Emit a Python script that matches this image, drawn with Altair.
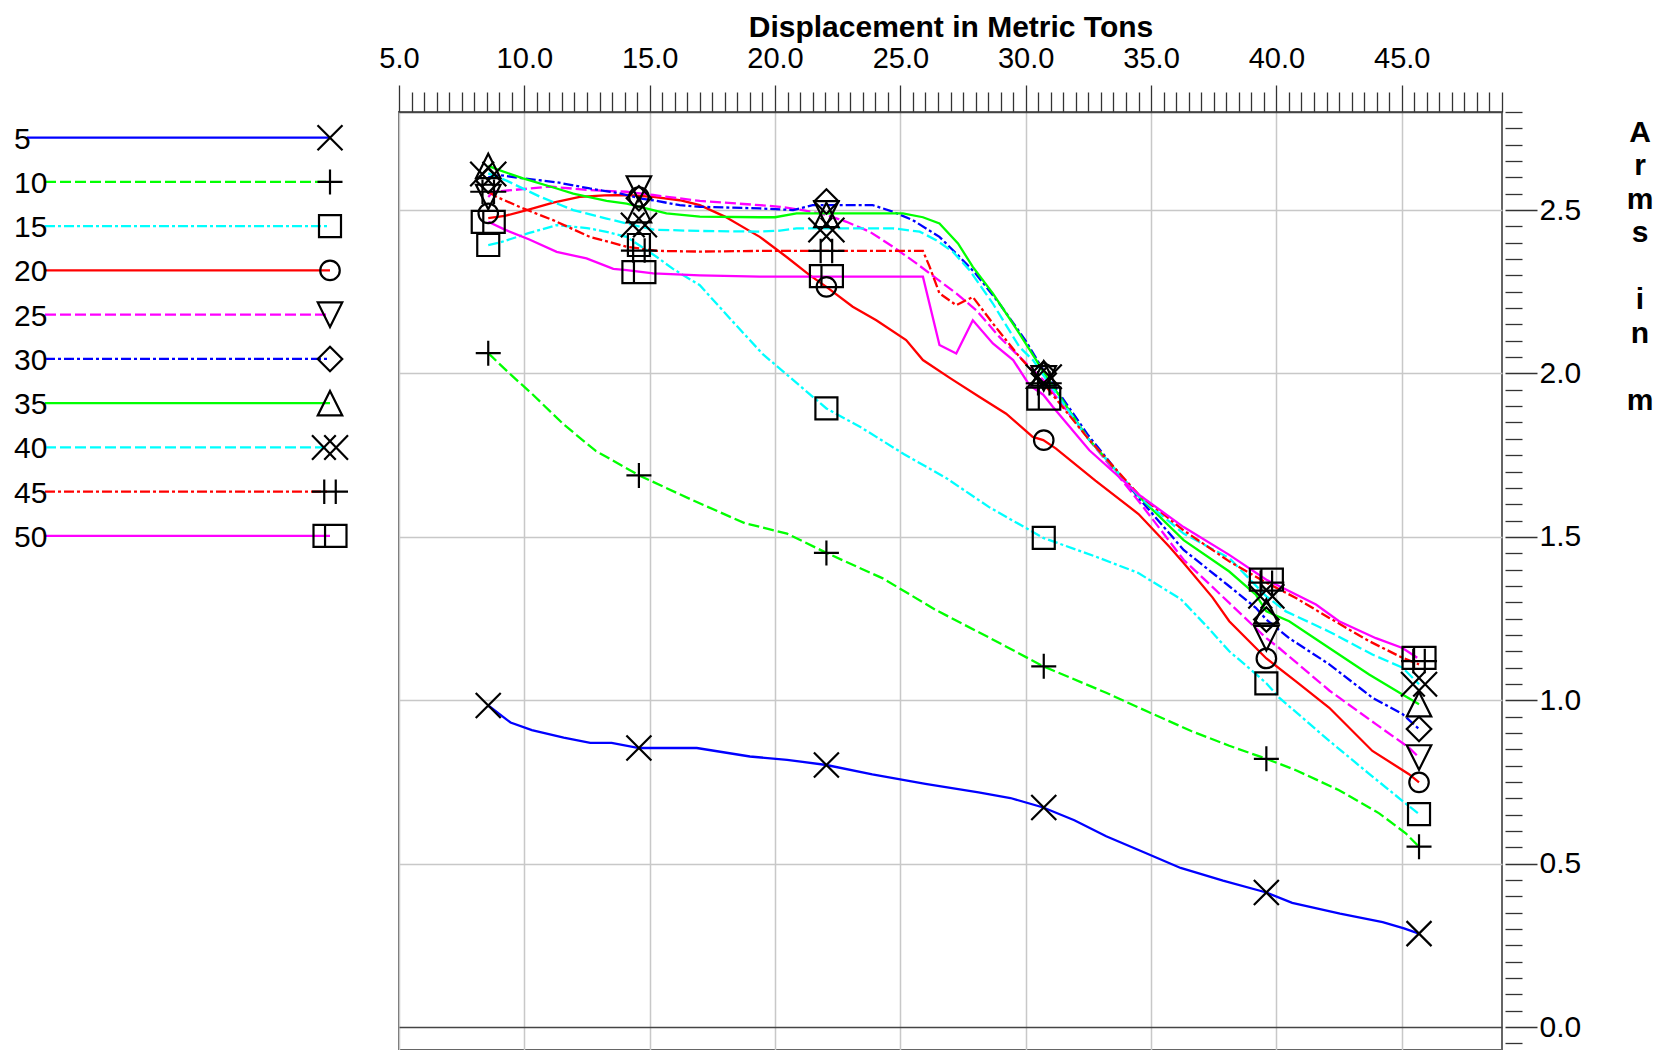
import altair as alt
import pandas as pd

# ---------------- data ----------------
LABELS = ["5", "10", "15", "20", "25", "30", "35", "40", "45", "50"]
COLORS = ["#0000ff", "#00ff00", "#00ffff", "#ff0000", "#ff00ff",
          "#0000ff", "#00ff00", "#00ffff", "#ff0000", "#ff00ff"]
DASHES = [None, [11, 4], [10, 3, 3, 3], None, [11, 4],
          [10, 3, 3, 3], None, [11, 4], [10, 3, 3, 3], None]

X5 = [8.56, 9.45, 10.30, 11.57, 12.63, 13.48, 14.58, 15.82, 16.88, 17.94, 19.00, 20.48, 22.05, 23.88, 26.00,
      28.12, 29.39, 30.70, 31.94, 33.21, 34.69, 36.18, 37.87, 39.60, 40.63, 42.54, 44.24, 45.09, 45.69]
Y5 = [0.984, 0.932, 0.909, 0.886, 0.870, 0.870, 0.854, 0.854, 0.854, 0.841, 0.828, 0.818, 0.802, 0.773, 0.744,
      0.718, 0.701, 0.672, 0.633, 0.584, 0.536, 0.487, 0.448, 0.412, 0.380, 0.347, 0.321, 0.302, 0.286]

X10 = [8.56, 9.45, 10.30, 11.57, 12.85, 14.58, 16.66, 18.79, 20.48, 22.05, 24.30, 26.42, 28.54, 30.70, 33.21,
       34.90, 36.60, 38.12, 39.60, 40.78, 42.50, 44.10, 45.16, 45.69]
Y10 = [2.062, 1.997, 1.938, 1.844, 1.763, 1.688, 1.614, 1.542, 1.510, 1.451, 1.373, 1.276, 1.192, 1.104, 1.023,
       0.964, 0.906, 0.861, 0.821, 0.786, 0.725, 0.654, 0.593, 0.552]

X15 = [8.56, 9.00, 10.20, 11.29, 12.50, 13.28, 14.08, 14.57, 15.27, 15.93, 17.00, 18.30, 19.50, 20.80, 22.05,
       23.45, 25.15, 26.85, 28.54, 30.70, 32.78, 34.48, 36.18, 37.30, 38.12, 39.19, 39.60, 40.11, 42.11, 43.70,
       45.16, 45.69]
Y15 = [2.393, 2.400, 2.430, 2.454, 2.445, 2.433, 2.418, 2.393, 2.357, 2.320, 2.270, 2.160, 2.060, 1.975, 1.893,
       1.834, 1.753, 1.679, 1.591, 1.497, 1.440, 1.390, 1.310, 1.220, 1.150, 1.080, 1.052, 1.008, 0.876, 0.775,
       0.684, 0.652]

X20 = [8.56, 9.22, 10.10, 11.15, 12.21, 13.20, 14.08, 15.14, 16.20, 17.00, 18.00, 19.39, 20.45, 21.38, 22.05,
       23.10, 24.04, 25.23, 25.90, 27.00, 28.16, 29.22, 30.28, 30.70, 31.21, 32.78, 34.50, 35.75, 36.30, 37.45,
       38.12, 39.60, 40.78, 42.11, 43.83, 45.29, 45.69]
Y20 = [2.475, 2.482, 2.500, 2.523, 2.540, 2.545, 2.546, 2.540, 2.530, 2.515, 2.480, 2.418, 2.357, 2.301, 2.265,
       2.204, 2.163, 2.102, 2.041, 1.985, 1.928, 1.877, 1.806, 1.796, 1.770, 1.672, 1.570, 1.468, 1.420, 1.315,
       1.242, 1.128, 1.058, 0.977, 0.845, 0.774, 0.749]

X25 = [8.56, 8.76, 9.95, 11.00, 12.61, 14.08, 15.14, 17.00, 19.39, 20.20, 21.10, 22.05, 22.85, 23.77, 24.70,
       25.64, 26.43, 27.23, 28.02, 28.95, 29.75, 30.70, 32.50, 34.50, 36.30, 38.12, 39.60, 40.11, 42.11, 43.97,
       45.29, 45.69]
Y25 = [2.540, 2.556, 2.564, 2.572, 2.561, 2.556, 2.546, 2.528, 2.515, 2.510, 2.500, 2.485, 2.464, 2.434, 2.388,
       2.337, 2.291, 2.245, 2.194, 2.112, 2.051, 1.980, 1.800, 1.610, 1.430, 1.298, 1.190, 1.160, 1.030, 0.927,
       0.855, 0.825]

X30 = [8.56, 9.00, 9.95, 11.29, 12.61, 13.80, 14.60, 15.27, 16.20, 17.00, 19.39, 20.72, 21.50, 22.05, 23.90,
       24.70, 25.50, 26.56, 27.36, 28.00, 28.95, 30.00, 30.70, 32.50, 34.50, 36.30, 38.12, 39.18, 39.60, 40.51,
       42.11, 43.83, 45.03, 45.69]
Y30 = [2.600, 2.607, 2.597, 2.585, 2.566, 2.551, 2.536, 2.528, 2.515, 2.510, 2.505, 2.500, 2.515, 2.515, 2.515,
       2.495, 2.469, 2.418, 2.357, 2.306, 2.214, 2.100, 2.010, 1.810, 1.620, 1.460, 1.349, 1.283, 1.247, 1.190,
       1.110, 1.008, 0.958, 0.912]

X35 = [8.56, 9.00, 9.95, 11.29, 11.95, 13.28, 14.08, 15.14, 15.67, 17.00, 19.39, 20.00, 20.86, 22.05, 25.10,
       25.90, 26.56, 27.30, 27.89, 28.69, 29.75, 30.42, 30.70, 32.50, 34.50, 36.30, 38.12, 39.18, 39.60, 40.51,
       42.11, 43.70, 45.03, 45.69]
Y35 = [2.635, 2.622, 2.597, 2.566, 2.550, 2.528, 2.520, 2.500, 2.490, 2.480, 2.478, 2.478, 2.490, 2.490, 2.490,
       2.478, 2.459, 2.398, 2.326, 2.245, 2.122, 2.041, 2.005, 1.800, 1.625, 1.490, 1.394, 1.323, 1.272, 1.242,
       1.160, 1.079, 1.018, 0.988]

X40 = [8.56, 9.29, 10.62, 11.95, 13.28, 14.35, 15.14, 17.00, 19.39, 20.20, 20.86, 24.70, 25.77, 26.43, 27.10,
       27.76, 28.69, 29.75, 30.30, 30.70, 32.50, 34.50, 36.30, 38.12, 39.60, 40.38, 42.11, 43.83, 45.03, 45.69]
Y40 = [2.612, 2.590, 2.541, 2.500, 2.474, 2.454, 2.440, 2.436, 2.434, 2.437, 2.444, 2.444, 2.434, 2.408, 2.372,
       2.316, 2.214, 2.081, 2.040, 1.995, 1.800, 1.625, 1.510, 1.435, 1.318, 1.272, 1.210, 1.140, 1.100, 1.049]

X45 = [8.56, 8.90, 9.95, 11.15, 12.61, 14.08, 15.27, 17.00, 19.39, 25.90, 26.17, 26.56, 27.23, 27.89, 28.69,
       29.75, 30.70, 32.50, 34.50, 36.30, 38.12, 39.60, 40.78, 42.11, 43.70, 45.03, 45.69]
Y45 = [2.556, 2.540, 2.505, 2.469, 2.418, 2.388, 2.375, 2.373, 2.375, 2.375, 2.326, 2.245, 2.209, 2.234, 2.153,
       2.051, 1.970, 1.800, 1.630, 1.520, 1.425, 1.360, 1.313, 1.252, 1.181, 1.130, 1.110]

X50 = [8.56, 9.22, 10.20, 11.29, 12.48, 13.55, 14.08, 15.14, 17.00, 19.39, 25.90, 26.56, 27.23, 27.89, 28.69,
       29.50, 30.15, 30.70, 31.08, 32.54, 34.50, 36.30, 38.12, 39.60, 41.58, 42.50, 43.97, 45.03, 45.62]
Y50 = [2.464, 2.440, 2.410, 2.372, 2.352, 2.320, 2.316, 2.306, 2.300, 2.296, 2.296, 2.087, 2.061, 2.163, 2.092,
       2.041, 1.964, 1.935, 1.898, 1.765, 1.630, 1.530, 1.445, 1.369, 1.293, 1.242, 1.190, 1.160, 1.130]

# marker positions (displacements where symbols are drawn)
MX = [8.56, 14.57, 22.05, 30.72, 39.60, 45.69]
M5 = [0.984, 0.854, 0.802, 0.672, 0.412, 0.286]
M10 = [2.062, 1.688, 1.451, 1.104, 0.821, 0.552]
M15 = [2.393, 2.393, 1.893, 1.497, 1.052, 0.652]
M20 = [2.490, 2.540, 2.265, 1.796, 1.128, 0.749]
M25 = [2.540, 2.566, 2.490, 1.985, 1.190, 0.825]
M30 = [2.590, 2.536, 2.526, 2.000, 1.247, 0.912]
M35 = [2.635, 2.500, 2.485, 2.000, 1.272, 0.988]
M40 = [2.610, 2.454, 2.439, 1.990, 1.318, 1.049]
M45 = [2.556, 2.376, 2.375, 1.970, 1.360, 1.120]
M50 = [2.464, 2.310, 2.298, 1.923, 1.369, 1.130]

LINES_X = [X5, X10, X15, X20, X25, X30, X35, X40, X45, X50]
LINES_Y = [Y5, Y10, Y15, Y20, Y25, Y30, Y35, Y40, Y45, Y50]
MARKS_Y = [M5, M10, M15, M20, M25, M30, M35, M40, M45, M50]

# open black symbols
SHAPES = [
    "M-1,-1L1,1M-1,1L1,-1",
    "M-1,0L1,0M0,-1L0,1",
    "M-1,-1L1,-1L1,1L-1,1Z",
    "circle",
    "M-1,-1L1,-1L0,1Z",
    "M0,-1L1,0L0,1L-1,0Z",
    "M0,-1L1,1L-1,1Z",
    "M-1.47,-1L0.47,1M-1.47,1L0.47,-1M-0.47,-1L1.47,1M-0.47,1L1.47,-1",
    "M-1.47,0L1.47,0M-0.47,-1L-0.47,1M0.47,-1L0.47,1",
    "M-1.5,-1L1.5,-1L1.5,1L-1.5,1ZM-0.45,-1L-0.45,1",
]
SIZES = [625, 625, 484, 380, 600, 600, 600, 600, 600, 484]

X_TICKS = [5 + 0.5 * i for i in range(89)]                 # 5.0 ... 49.0
Y_TICKS = [round(-0.05 + 0.05 * i, 2) for i in range(58)]  # -0.05 ... 2.8
# y-axis title "Arms in m", written as stacked letters, one word per block
Y_TITLE_WORDS = [["A", "r", "m", "s"], ["i", "n"], ["m"]]
Y_TITLE_ROWS = [0, 5, 8]   # starting row of each word (blank row between words)

# ---------------- styling ----------------
FONT = "Liberation Sans, Arial, sans-serif"

x_major = "abs(datum.value / 5 - round(datum.value / 5)) < 0.001"
y_major = "abs(datum.value * 2 - round(datum.value * 2)) < 0.001"

x_axis = alt.Axis(
    orient="top", values=X_TICKS,
    labelExpr=f"({x_major}) ? format(datum.value, '.1f') : ''",
    labelFont=FONT, labelFontSize=29, labelColor="black",
    labelBaseline="alphabetic", labelPadding=18,
    labelFlush=False, labelOverlap=False,
    tickSize={"condition": {"test": x_major, "value": 27}, "value": 20},
    tickColor="#333333", tickWidth=1.3,
    domainColor="#444444", domainWidth=1.5,
    grid=True, gridColor="#c8c8c8", gridWidth=1.5,
    gridOpacity={"condition": {"test": x_major, "value": 1}, "value": 0},
    title="Displacement in Metric Tons", titleFont=FONT, titleFontSize=30,
    titleFontWeight="bold", titleColor="black",
    titleY=-76, titleBaseline="alphabetic",
)

y_axis = alt.Axis(
    orient="right", values=Y_TICKS, offset=3, domain=False,
    labelExpr=f"({y_major}) ? format(datum.value, '.1f') : ''",
    labelFont=FONT, labelFontSize=30, labelColor="black",
    labelPadding=2, labelOverlap=False, labelFlush=False,
    tickSize={"condition": {"test": y_major, "value": 32}, "value": 17},
    tickColor="#333333", tickWidth=1.3,
    grid=True, gridWidth=1.5,
    gridColor={"condition": {"test": "abs(datum.value) < 0.001", "value": "#444444"}, "value": "#c8c8c8"},
    gridOpacity={"condition": {"test": y_major, "value": 1}, "value": 0},
    title=None,
)

x_scale = alt.Scale(domain=[5, 49], nice=False, zero=False)
y_scale = alt.Scale(domain=[-0.07, 2.8], nice=False, zero=False)

x_enc = alt.X("x:Q", scale=x_scale, axis=x_axis)
y_enc = alt.Y("y:Q", scale=y_scale, axis=y_axis)

line_layers = []
marker_layers = []
legend_layers = []
title_layers = []
one = pd.DataFrame({"k": [0]})

for i, lab in enumerate(LABELS):
    df = pd.DataFrame({"x": LINES_X[i], "y": LINES_Y[i]})
    kw = dict(color=COLORS[i], strokeWidth=2.3)
    if DASHES[i] is not None:
        kw["strokeDash"] = DASHES[i]
    line_layers.append(alt.Chart(df).mark_line(**kw).encode(x=x_enc, y=y_enc))

    mdf = pd.DataFrame({"x": MX, "y": MARKS_Y[i]})
    pkw = dict(shape=SHAPES[i], size=SIZES[i], filled=False, color="black",
               strokeWidth=2.2, opacity=1)
    marker_layers.append(alt.Chart(mdf).mark_point(**pkw).encode(x=x_enc, y=y_enc))

    # legend row (drawn to the left of the plot area)
    ypx = 25.7 + 44.25 * i
    xstart = -372 if len(lab) == 1 else -354
    rkw = dict(color=COLORS[i], strokeWidth=2.3)
    if DASHES[i] is not None:
        rkw["strokeDash"] = DASHES[i]
    legend_layers.append(
        alt.Chart(one).mark_rule(**rkw).encode(
            x=alt.value(xstart), x2=alt.value(-69), y=alt.value(ypx)))
    legend_layers.append(
        alt.Chart(one).mark_text(text=lab, align="left", baseline="middle", dy=2,
                                 font=FONT, fontSize=30, color="black").encode(
            x=alt.value(-385), y=alt.value(ypx)))
    legend_layers.append(
        alt.Chart(one).mark_point(**pkw).encode(x=alt.value(-69), y=alt.value(ypx)))

# stacked y-axis title on the far right
for word, row in zip(Y_TITLE_WORDS, Y_TITLE_ROWS):
    title_layers.append(
        alt.Chart(one).mark_text(text=word, align="center", baseline="alphabetic",
                                 lineHeight=33.5, font=FONT, fontSize=30,
                                 fontWeight="bold", color="black").encode(
            x=alt.value(1241), y=alt.value(29.6 + 33.5 * row)))

chart = alt.layer(*line_layers, *marker_layers, *legend_layers, *title_layers).properties(
    width=1103, height=938,
    autosize=alt.AutoSizeParams(type="none"),
    padding={"left": 391, "top": 104, "right": 155, "bottom": 0},
    background="white",
).configure_view(stroke="#666666", strokeWidth=2)

chart.save("out.html", embed_options={"renderer": "svg", "actions": False})
